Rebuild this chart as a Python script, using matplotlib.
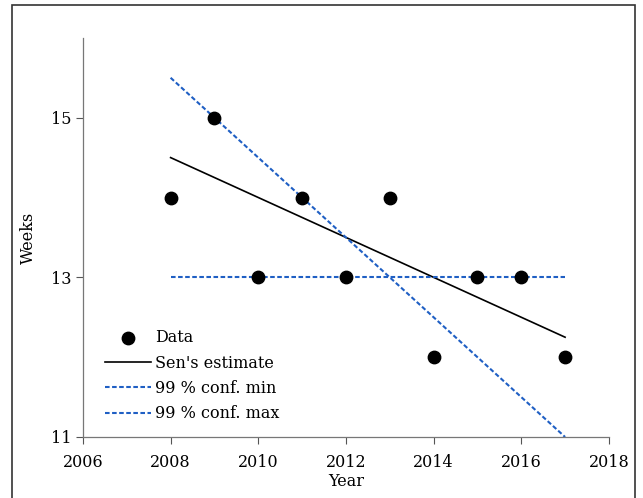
import numpy as np
import matplotlib.pyplot as plt
from matplotlib.patches import Rectangle

plt.rcParams['font.family'] = ['DejaVu Serif']

# weeks per year
years = np.array([2008, 2009, 2010, 2011, 2012, 2013, 2014, 2015, 2016, 2017])
weeks = np.array([14, 15, 13, 14, 13, 14, 12, 13, 13, 12])

# trend lines, end points at 2008 and 2017
line_years = [2008, 2017]
sen_est = [14.5, 12.25]
conf_min = [13, 13]
conf_max = [15.5, 11]

blue = '#1f5fc4'

fig = plt.figure(figsize=(6.43, 4.98), dpi=100)
ax = fig.add_axes([0.129, 0.1225, 0.818, 0.8015])

ax.scatter(years, weeks, s=80, color='black', zorder=3, label='Data')
ax.plot(line_years, sen_est, color='black', lw=1.2, label="Sen's estimate")
ax.plot(line_years, conf_min, color=blue, lw=1.5, ls=(0, (2.2, 1.2)), label='99 % conf. min')
ax.plot(line_years, conf_max, color=blue, lw=1.5, ls=(0, (2.2, 1.2)), label='99 % conf. max')

ax.set_xlim(2006, 2018)
ax.set_ylim(11, 16)
ax.set_xticks(range(2006, 2019, 2))
ax.set_yticks([11, 13, 15])
ax.set_xlabel('Year', fontsize=11.5, labelpad=2)
ax.set_ylabel('Weeks', fontsize=11.5, labelpad=10)
ax.tick_params(labelsize=11.5, length=5, width=0.8, color='#555555')
ax.tick_params(axis='x', pad=7)
for s in ['top', 'right']:
    ax.spines[s].set_visible(False)
for s in ['left', 'bottom']:
    ax.spines[s].set_color('#777777')
    ax.spines[s].set_linewidth(0.9)

ax.legend(loc='upper left', bbox_to_anchor=(0.042, 0.27), frameon=False,
          fontsize=11.5, handlelength=2.9, handletextpad=0.25,
          labelspacing=0.52, borderaxespad=0, borderpad=0)

# outer frame
fig.patches.append(Rectangle((12 / 643, -0.02), 623 / 643, 1 - 5 / 498 + 0.02,
                             transform=fig.transFigure, fill=False,
                             edgecolor='#333333', lw=1.2))

fig.savefig('out.png', dpi=100)
